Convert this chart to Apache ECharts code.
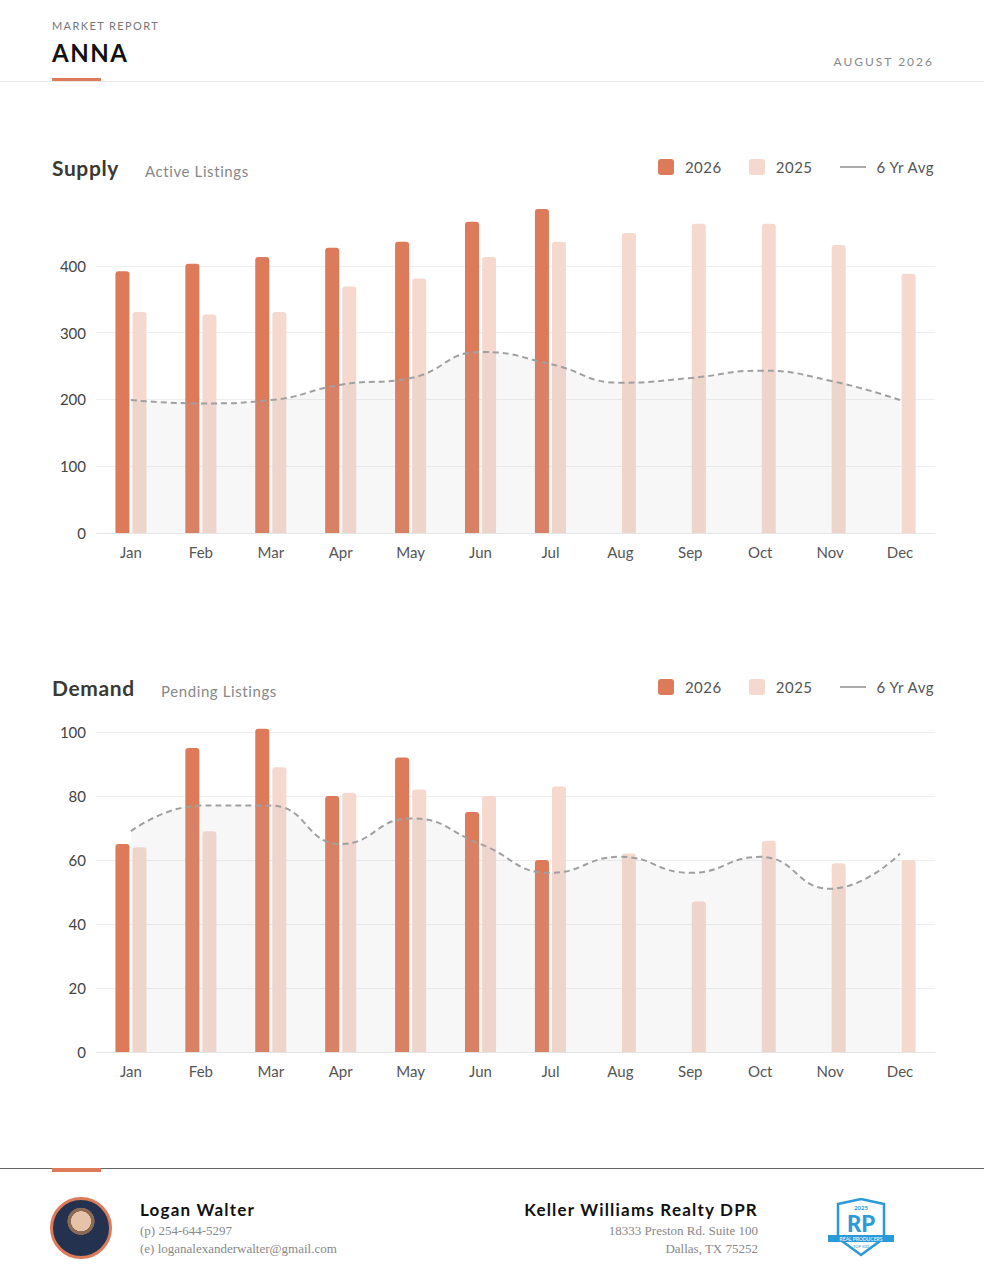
<!DOCTYPE html>
<html>
<head>
<meta charset="utf-8">
<script src="https://cdn.jsdelivr.net/npm/echarts@6/dist/echarts.min.js"></script>
<style>
  body { margin: 0; width: 984px; height: 1278px; position: relative; font-family: Lato, "Noto Sans", sans-serif; background: #fff; overflow: hidden; }
  .abs { position: absolute; }
  #chart { position: absolute; left: 0; top: 0; width: 984px; height: 1278px; }
  .kicker { left: 52px; top: 19px; font-size: 11px; letter-spacing: 1.4px; color: #777; }
  .title { left: 52px; top: 38px; font-size: 24px; font-weight: 700; letter-spacing: 1.5px; color: #111; }
  .date { right: 50px; top: 54px; font-size: 12px; letter-spacing: 2px; color: #888; }
  .hd { font-size: 21px; font-weight: 700; color: #3a3a32; letter-spacing: 0.6px; }
  .sub { font-size: 15px; color: #888; letter-spacing: 0.6px; }
  .legend { right: 50px; font-size: 15px; color: #555; display: flex; align-items: center; letter-spacing: 0.5px; }
  .legend span.sw { display: inline-block; width: 16px; height: 16px; border-radius: 3px; margin-right: 11px; }
  .legend span.ln { display: inline-block; width: 26px; height: 2px; background: #aaa; margin-right: 11px; }
  .legend .it { display: flex; align-items: center; margin-left: 27px; }
  .foot { font-family: "Liberation Serif", serif; font-size: 13px; color: #888; }
  .name { font-size: 17px; font-weight: 700; color: #111; letter-spacing: 1.2px; }
</style>
</head>
<body>
<div id="chart"></div>
<div class="abs kicker">MARKET REPORT</div>
<div class="abs title">ANNA</div>
<div class="abs" style="left:52px;top:78px;width:49px;height:3px;background:#dc7a5a"></div>
<div class="abs" style="left:0;top:81px;width:984px;height:1px;background:#e8e8e8"></div>
<div class="abs date">AUGUST 2026</div>

<div class="abs hd" style="left:52px;top:155px">Supply</div>
<div class="abs sub" style="left:145px;top:162px">Active Listings</div>
<div class="abs legend" style="top:158px">
  <div class="it"><span class="sw" style="background:#dc7a5a"></span>2026</div>
  <div class="it"><span class="sw" style="background:#f5d9cf"></span>2025</div>
  <div class="it"><span class="ln"></span>6 Yr Avg</div>
</div>

<div class="abs hd" style="left:52px;top:675px">Demand</div>
<div class="abs sub" style="left:161px;top:682px">Pending Listings</div>
<div class="abs legend" style="top:678px">
  <div class="it"><span class="sw" style="background:#dc7a5a"></span>2026</div>
  <div class="it"><span class="sw" style="background:#f5d9cf"></span>2025</div>
  <div class="it"><span class="ln"></span>6 Yr Avg</div>
</div>

<div class="abs" style="left:0;top:1168px;width:984px;height:1px;background:#666"></div>
<div class="abs" style="left:52px;top:1168px;width:49px;height:4px;background:#dc7a5a"></div>
<div class="abs" style="left:50px;top:1197px;width:56px;height:56px;border:3px solid #dc7a5a;border-radius:50%;background:radial-gradient(circle at 50% 38%, #e6c3a8 0 22%, #8a6a55 23% 30%, #24324f 31% 100%);"></div>
<div class="abs name" style="left:140px;top:1199px">Logan Walter</div>
<div class="abs foot" style="left:140px;top:1223px">(p) 254-644-5297</div>
<div class="abs foot" style="left:140px;top:1241px">(e) loganalexanderwalter@gmail.com</div>
<div class="abs name" style="right:226px;top:1199px">Keller Williams Realty DPR</div>
<div class="abs foot" style="right:226px;top:1223px;text-align:right">18333 Preston Rd. Suite 100</div>
<div class="abs foot" style="right:226px;top:1241px;text-align:right">Dallas, TX 75252</div>
<svg class="abs" style="left:826px;top:1198px" width="70" height="60" viewBox="0 0 70 60">
  <path d="M12 6 L35 1 L58 6 L58 40 L35 57 L12 40 Z" fill="#fff" stroke="#2a9ad8" stroke-width="2.5"/>
  <text x="35" y="12" font-size="6" fill="#2a9ad8" text-anchor="middle" font-family="Lato" font-weight="700">2025</text>
  <text x="35" y="34" font-size="22" fill="#2a9ad8" text-anchor="middle" font-family="Lato" font-weight="900">RP</text>
  <rect x="2" y="37" width="66" height="7" fill="#2a9ad8"/>
  <text x="35" y="43" font-size="5" fill="#fff" text-anchor="middle" font-family="Lato">REAL PRODUCERS</text>
  <text x="35" y="50" font-size="4" fill="#2a9ad8" text-anchor="middle" font-family="Lato">TOP 500</text>
</svg>

<script>
var months = ['Jan','Feb','Mar','Apr','May','Jun','Jul','Aug','Sep','Oct','Nov','Dec'];

var supply2026 = [392, 403, 413, 427, 436, 466, 485, null, null, null, null, null];
var supply2025 = [331, 327, 331, 369, 381, 413, 436, 449, 463, 463, 431, 388];
var supplyAvg  = [199, 194, 199, 222, 232, 271, 253, 225, 232, 243, 228, 199];

var demand2026 = [65, 95, 101, 80, 92, 75, 60, null, null, null, null, null];
var demand2025 = [64, 69, 89, 81, 82, 80, 83, 62, 47, 66, 59, 60];
var demandAvg  = [69, 77, 77, 65, 73, 65, 56, 61, 56, 61, 51, 62];

var c2026 = '#dc7a5a', c2025 = '#f5d9cf', grid = '#eeeeee';

function xAxis(i) {
  return {
    type: 'category', gridIndex: i, data: months,
    axisLine: { lineStyle: { color: '#e6e6e6' } },
    axisTick: { show: false },
    axisLabel: { color: '#555', fontSize: 15, margin: 11, fontFamily: 'Lato' }
  };
}
function yAxis(i, max, interval, n) {
  var colors = [];
  for (var k = 0; k < n; k++) colors.push(grid);
  colors.push('transparent');
  return {
    type: 'value', gridIndex: i, min: 0, max: max, interval: interval,
    axisLabel: { color: '#444', fontSize: 15, margin: 10, showMaxLabel: false, fontFamily: 'Lato' },
    axisLine: { show: false }, axisTick: { show: false },
    splitLine: { lineStyle: { color: colors } }
  };
}
function bars(i, data, color) {
  return {
    type: 'bar', xAxisIndex: i, yAxisIndex: i, data: data, barWidth: 14, barGap: '22%',
    itemStyle: { color: color, borderRadius: [3, 3, 0, 0] }, z: 2
  };
}
function avg(i, data) {
  return {
    type: 'line', xAxisIndex: i, yAxisIndex: i, data: data, smooth: true, symbol: 'none',
    lineStyle: { color: '#a0a0a0', width: 2, type: [6, 4] },
    areaStyle: { color: 'rgba(190,190,190,0.17)' }, z: 3
  };
}

var chart = echarts.init(document.getElementById('chart'), null, { renderer: 'svg' });
chart.setOption({
  animation: false,
  grid: [
    { left: 96, right: 49, top: 199, height: 334 },
    { left: 96, right: 49, top: 668, height: 384 }
  ],
  xAxis: [xAxis(0), xAxis(1)],
  yAxis: [yAxis(0, 500, 100, 5), yAxis(1, 120, 20, 6)],
  series: [
    bars(0, supply2026, c2026), bars(0, supply2025, c2025), avg(0, supplyAvg),
    bars(1, demand2026, c2026), bars(1, demand2025, c2025), avg(1, demandAvg)
  ]
});
</script>
</body>
</html>
